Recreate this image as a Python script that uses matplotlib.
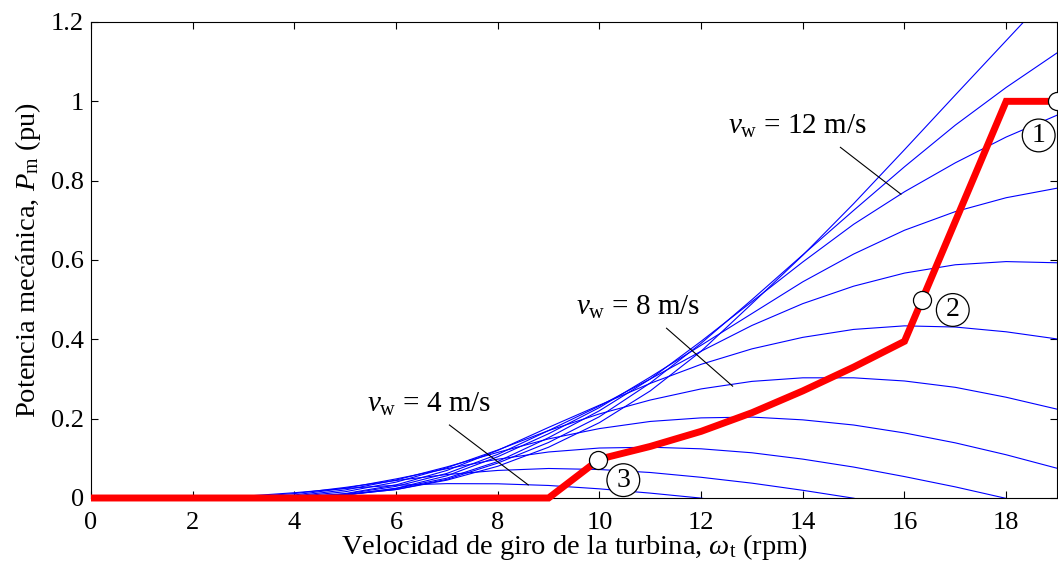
import numpy as np
import matplotlib
matplotlib.use('Agg')
import matplotlib.pyplot as plt
from matplotlib.ticker import FormatStrFormatter

plt.rcParams['font.family'] = ['Liberation Serif', 'DejaVu Serif']
plt.rcParams['mathtext.fontset'] = 'custom'
plt.rcParams['mathtext.rm'] = 'Liberation Serif'
plt.rcParams['mathtext.it'] = 'Liberation Serif:italic'

# turbine speed (rpm) at which the power curves were read
rpm = [2, 3, 4, 5, 6, 7, 8, 9, 10, 11, 12, 13, 14, 15, 16, 17, 18, 19]

# mechanical power (pu) for each wind speed (m/s)
p_v4 = [0.0004, 0.0043, 0.0133, 0.0241, 0.0322, 0.0362, 0.0358, 0.0316, 0.0231,
        0.0123, -0.0003, -0.02, -0.04, -0.06, -0.08, -0.10, -0.12, -0.14]
p_v5 = [0.0, 0.0025, 0.0111, 0.0267, 0.0442, 0.0592, 0.0695, 0.0744, 0.0718,
        0.0643, 0.0522, 0.0374, 0.0194, -0.0005, -0.03, -0.06, -0.09, -0.12]
p_v6 = [0.0, 0.0013, 0.0076, 0.0246, 0.0481, 0.0739, 0.0978, 0.116, 0.126,
        0.128, 0.124, 0.114, 0.098, 0.078, 0.054, 0.028, -0.001, -0.03]
p_v7 = [0.0, 0.0005, 0.0049, 0.0203, 0.0453, 0.0784, 0.115, 0.149, 0.175,
        0.193, 0.202, 0.204, 0.197, 0.184, 0.164, 0.139, 0.109, 0.075]
p_v8 = [0.0, 0.0002, 0.0032, 0.0158, 0.040, 0.0762, 0.121, 0.170, 0.212,
        0.247, 0.275, 0.294, 0.303, 0.303, 0.295, 0.279, 0.254, 0.224]
p_v9 = [0.0, 0.0, 0.0012, 0.0112, 0.033, 0.0694, 0.120, 0.178, 0.234,
        0.289, 0.337, 0.376, 0.405, 0.425, 0.434, 0.431, 0.419, 0.401]
p_v10 = [0.0, 0.0, 0.0009, 0.0101, 0.0294, 0.062, 0.110, 0.170, 0.232,
         0.300, 0.370, 0.435, 0.490, 0.534, 0.567, 0.588, 0.596, 0.593]
p_v11 = [0.0, 0.0, 0.0005, 0.0077, 0.0245, 0.056, 0.104, 0.162, 0.228,
         0.305, 0.385, 0.465, 0.545, 0.615, 0.675, 0.722, 0.757, 0.781]
p_v12 = [0.0, 0.0, 0.0, 0.0076, 0.024, 0.050, 0.092, 0.152, 0.220,
         0.300, 0.395, 0.495, 0.595, 0.690, 0.772, 0.845, 0.910, 0.965]
p_v13 = [0.0, 0.0, 0.0, 0.008, 0.0215, 0.047, 0.088, 0.140, 0.205,
         0.290, 0.390, 0.500, 0.613, 0.725, 0.835, 0.940, 1.035, 1.122]
p_v14 = [0.0, 0.0, 0.0, 0.0084, 0.0213, 0.045, 0.080, 0.128, 0.190,
         0.270, 0.370, 0.490, 0.612, 0.742, 0.878, 1.016, 1.153, 1.290]
curves = [p_v4, p_v5, p_v6, p_v7, p_v8, p_v9, p_v10, p_v11, p_v12, p_v13, p_v14]

# operating trajectory (thick red)
red_rpm = [0, 9, 10, 11, 12, 13, 14, 15, 16, 18, 19]
red_p = [0, 0, 0.098, 0.13, 0.168, 0.215, 0.27, 0.33, 0.395, 1.0, 1.0]

# operating points 1, 2, 3
pt_rpm = [19.0, 16.35, 9.98]
pt_p = [1.0, 0.5, 0.096]
pt_labels = ['1', '2', '3']
pt_label_pos = [(18.64, 0.914), (16.95, 0.474), (10.47, 0.045)]

# wind speed labels: text, text position, leader line (start, end)
vw_labels = [
    (r'$v_{\rm w}$ = 12 m/s', (12.52, 0.919), (14.74, 0.884), (15.93, 0.766)),
    (r'$v_{\rm w}$ = 8 m/s', (9.53, 0.463), (11.32, 0.428), (12.62, 0.282)),
    (r'$v_{\rm w}$ = 4 m/s', (5.43, 0.217), (7.05, 0.184), (8.60, 0.033)),
]

fig = plt.figure(figsize=(10.58, 5.63), dpi=100)
ax = fig.add_axes([91/1058, 65/563, 966/1058, 476/563])

for p in curves:
    ax.plot(rpm, p, color=(0, 0, 1), lw=0.8)

ax.plot(red_rpm, red_p, color='red', lw=5, solid_joinstyle='miter',
        solid_capstyle='butt', clip_on=False, zorder=3)
ax.plot(pt_rpm, pt_p, 'o', ms=13, mfc='white', mec='black', mew=0.9,
        clip_on=False, zorder=4)

for lab, (x, y) in zip(pt_labels, pt_label_pos):
    ax.text(x, y, lab, fontsize=20, ha='center', va='center', zorder=5,
            bbox=dict(boxstyle='circle,pad=0.14', fc='white', ec='black', lw=0.9))

for txt, (tx, ty), (x0, y0), (x1, y1) in vw_labels:
    ax.text(tx, ty, txt, fontsize=21, ha='left', va='baseline')
    ax.plot([x0, x1], [y0, y1], color='black', lw=0.8)

ax.set_xlim(0, 19)
ax.set_ylim(0, 1.2)
ax.set_xticks(np.arange(0, 19, 2))
ax.set_yticks(np.arange(0, 1.21, 0.2))
ax.yaxis.set_major_formatter(FormatStrFormatter('%g'))
ax.tick_params(direction='in', top=True, right=True, length=5, width=0.8,
               labelsize=19)
ax.tick_params(axis='x', pad=10)
ax.tick_params(axis='y', pad=5)
for s in ax.spines.values():
    s.set_linewidth(0.8)

ax.set_xlabel(r'Velocidad de giro de la turbina, $\omega_{\rm t}$ (rpm)',
              fontsize=20.5, labelpad=-1)
ax.set_ylabel(r'Potencia mecánica, $P_{\rm m}$ (pu)', fontsize=20.5, labelpad=6)

fig.savefig('out.png', dpi=100)
